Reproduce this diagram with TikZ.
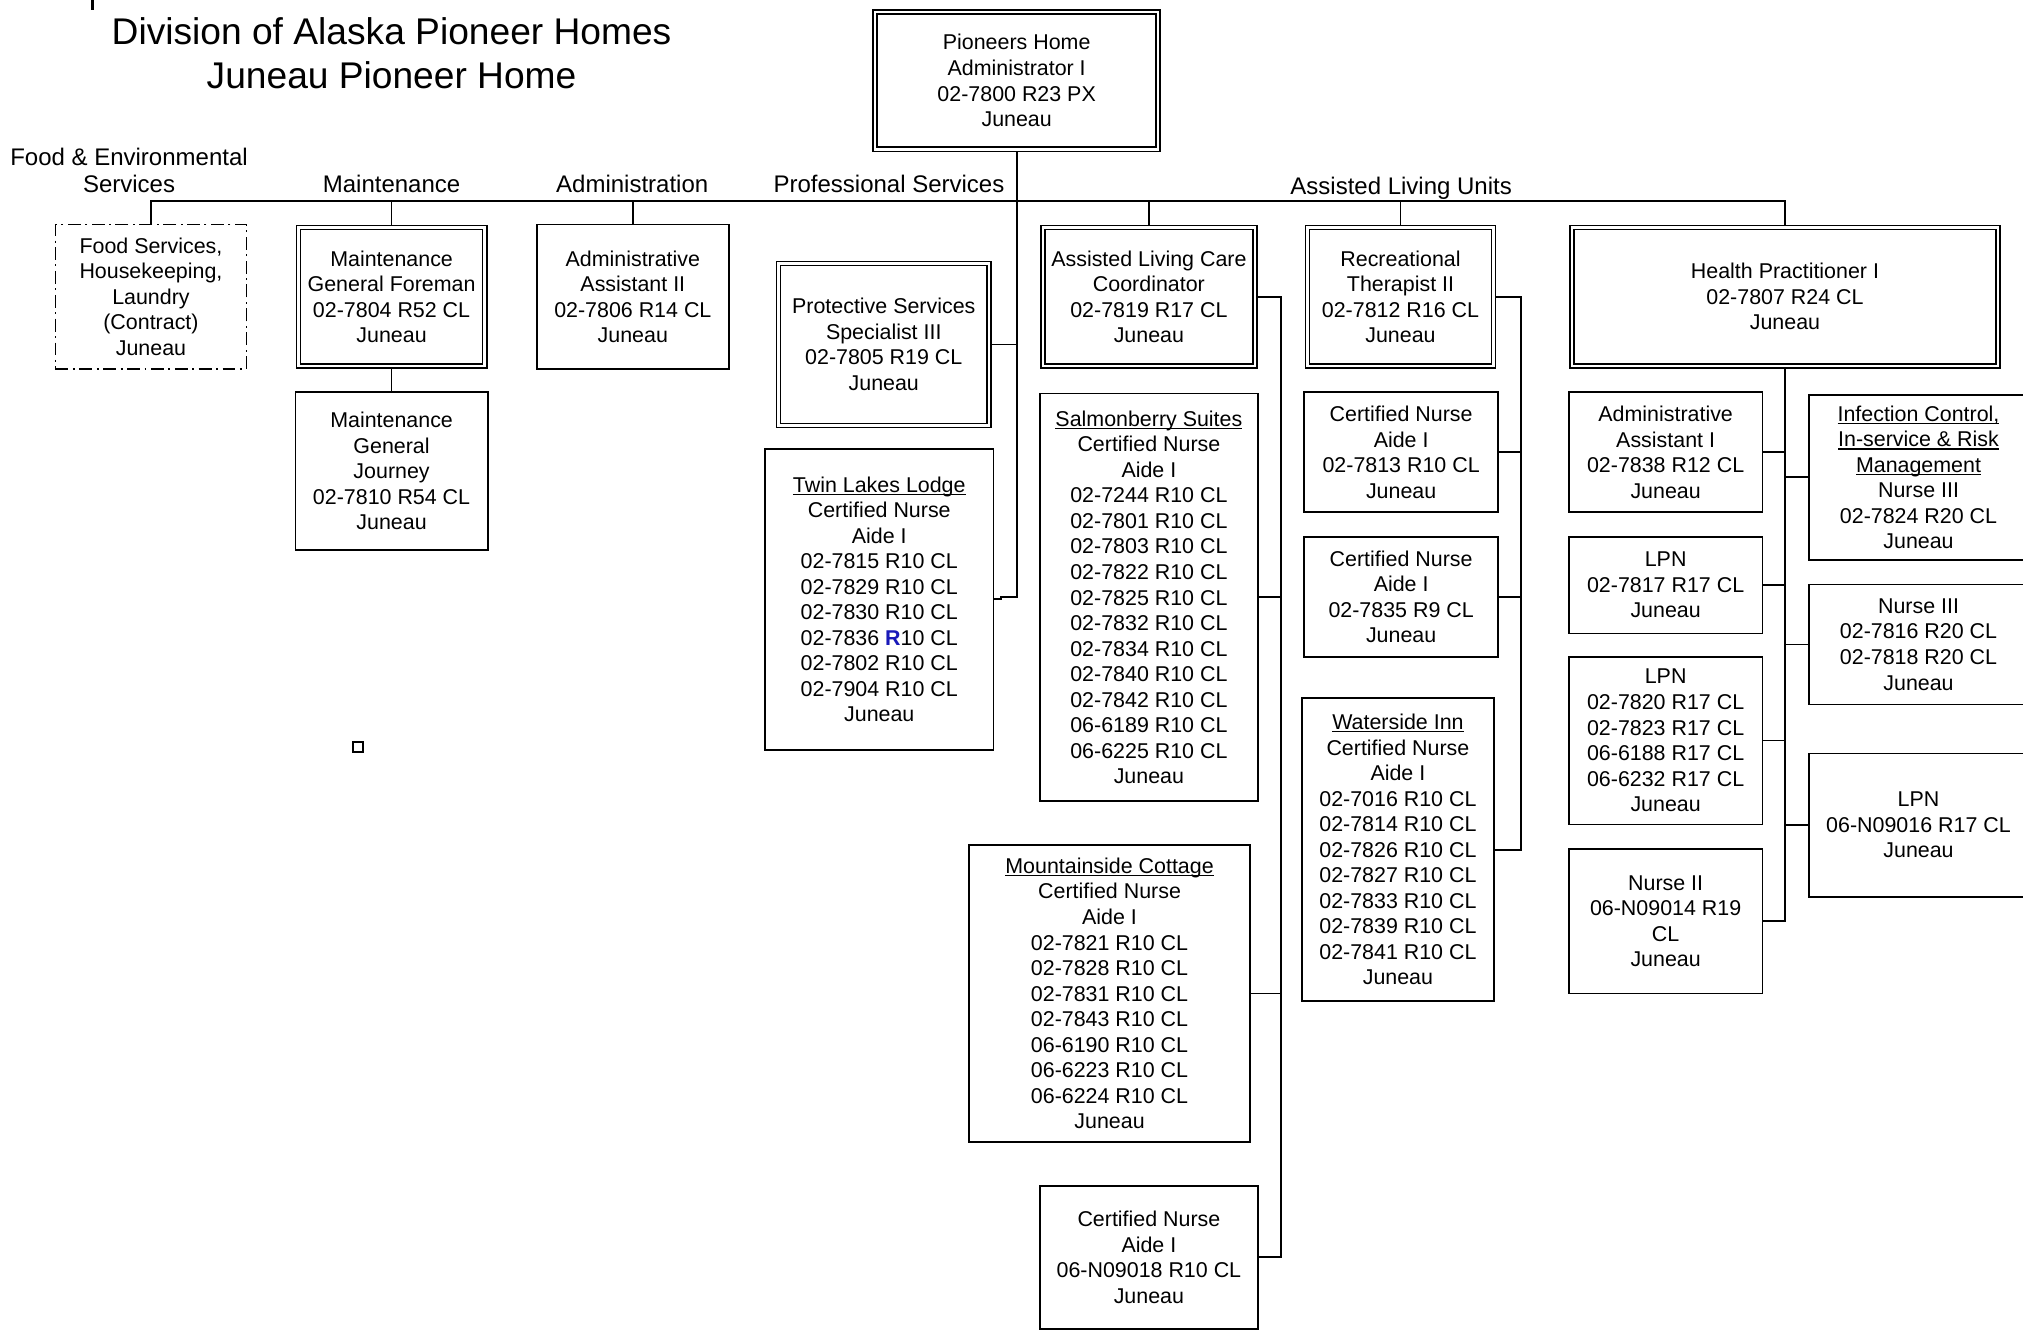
\documentclass[tikz,border=0pt]{standalone}
\usepackage{fontspec}
\setmainfont{Liberation Sans}
\usetikzlibrary{backgrounds}
\definecolor{rblue}{RGB}{25,25,185}
\newcommand\bxfont{\fontsize{16.6}{19.8}\selectfont}
\newcommand\scfont{\fontsize{18.6}{21.5}\selectfont}
\newcommand\ttlfont{\fontsize{28.8}{34}\selectfont}
\newcommand\myul[1]{\leavevmode\setbox0\hbox{#1}\rlap{\rule[-2.3pt]{\wd0}{1.1pt}}\box0}
\begin{document}
\begin{tikzpicture}[x=1pt,y=-1pt,
  bx/.style={draw, line width=1.4pt, inner sep=0pt, align=center, font=\bxfont},
  dbx/.style={bx, double, double distance=2pt, line width=1.2pt},
  fbx/.style={bx, line width=1.3pt, dash pattern=on 10pt off 3.5pt on 1.5pt off 3.5pt},
  sec/.style={inner sep=0pt, align=center, font=\scfont},
  conn/.style={line width=1.4pt},
]
\useasboundingbox (0,0) rectangle (1568,1031);

% title
\node[inner sep=0pt, align=center, font=\ttlfont] (title) at (303.5,41) {Division of Alaska Pioneer Homes\\Juneau Pioneer Home};
\draw[line width=2pt] (71.5,0) -- (71.5,8);

% section labels
\node[sec] (lfood) at (100,132) {Food \& Environmental\\Services};
\node[sec, anchor=base] (lmaint) at (303.5,149.5) {Maintenance};
\node[sec, anchor=base] (ladmin) at (490,149.5) {Administration};
\node[sec, anchor=base] (lprof) at (689,149.5) {Professional Services};
\node[sec, anchor=base] (lalu) at (1086,151) {Assisted Living Units};

% boxes
\node[dbx, minimum width=219.4pt, minimum height=106.4pt] (top) at (788,62.5) {Pioneers Home\\Administrator I\\02-7800 R23 PX\\Juneau};

\node[fbx, minimum width=148pt, minimum height=112pt] (food) at (117,230) {Food Services,\\Housekeeping,\\Laundry\\(Contract)\\Juneau};

\node[dbx, minimum width=144.4pt, minimum height=107.4pt] (mgf) at (303.5,230) {Maintenance\\General Foreman\\02-7804 R52 CL\\Juneau};
\node[bx, minimum width=149pt, minimum height=122pt] (mgj) at (303.5,365) {Maintenance\\General\\Journey\\02-7810 R54 CL\\Juneau};

\node[bx, minimum width=149pt, minimum height=112pt] (adm2) at (490.5,230) {Administrative\\Assistant II\\02-7806 R14 CL\\Juneau};

\node[dbx, minimum width=163.4pt, minimum height=125.4pt] (prot) at (685,267) {Protective Services\\Specialist III\\02-7805 R19 CL\\Juneau};
\node[bx, minimum width=177pt, minimum height=233pt] (twin) at (681.5,464.5) {\myul{Twin Lakes Lodge}\\Certified Nurse\\Aide I\\02-7815 R10 CL\\02-7829 R10 CL\\02-7830 R10 CL\\02-7836 \textcolor{rblue}{\textbf{R}}10 CL\\02-7802 R10 CL\\02-7904 R10 CL\\Juneau};

\node[dbx, minimum width=164.4pt, minimum height=107.4pt] (alcc) at (890.5,230) {Assisted Living Care\\Coordinator\\02-7819 R17 CL\\Juneau};
\node[bx, minimum width=169pt, minimum height=316pt] (salm) at (890.5,463) {\myul{Salmonberry Suites}\\Certified Nurse\\Aide I\\02-7244 R10 CL\\02-7801 R10 CL\\02-7803 R10 CL\\02-7822 R10 CL\\02-7825 R10 CL\\02-7832 R10 CL\\02-7834 R10 CL\\02-7840 R10 CL\\02-7842 R10 CL\\06-6189 R10 CL\\06-6225 R10 CL\\Juneau};
\node[bx, minimum width=218pt, minimum height=230pt] (mount) at (860,770) {\myul{Mountainside Cottage}\\Certified Nurse\\Aide I\\02-7821 R10 CL\\02-7828 R10 CL\\02-7831 R10 CL\\02-7843 R10 CL\\06-6190 R10 CL\\06-6223 R10 CL\\06-6224 R10 CL\\Juneau};
\node[bx, minimum width=169pt, minimum height=111pt] (cna18) at (890.5,974.5) {Certified Nurse\\Aide I\\06-N09018 R10 CL\\Juneau};

\node[dbx, minimum width=144.4pt, minimum height=107.4pt] (rec) at (1085.5,230) {Recreational\\Therapist II\\02-7812 R16 CL\\Juneau};
\node[bx, minimum width=150pt, minimum height=93pt] (cna13) at (1086,350.5) {Certified Nurse\\Aide I\\02-7813 R10 CL\\Juneau};
\node[bx, minimum width=150pt, minimum height=93pt] (cna35) at (1086,462.5) {Certified Nurse\\Aide I\\02-7835 R9 CL\\Juneau};
\node[bx, minimum width=149pt, minimum height=235pt] (water) at (1083.5,658.5) {\myul{Waterside Inn}\\Certified Nurse\\Aide I\\02-7016 R10 CL\\02-7814 R10 CL\\02-7826 R10 CL\\02-7827 R10 CL\\02-7833 R10 CL\\02-7839 R10 CL\\02-7841 R10 CL\\Juneau};

\node[dbx, minimum width=330.4pt, minimum height=107.4pt] (hp) at (1383.5,230) {Health Practitioner I\\02-7807 R24 CL\\Juneau};
\node[bx, minimum width=150pt, minimum height=93pt] (adm1) at (1291,350.5) {Administrative\\Assistant I\\02-7838 R12 CL\\Juneau};
\node[bx, minimum width=150pt, minimum height=75pt] (lpn17) at (1291,453.5) {LPN\\02-7817 R17 CL\\Juneau};
\node[bx, minimum width=150pt, minimum height=130pt] (lpn20) at (1291,574) {LPN\\02-7820 R17 CL\\02-7823 R17 CL\\06-6188 R17 CL\\06-6232 R17 CL\\Juneau};
\node[bx, minimum width=150pt, minimum height=112pt] (nurse2) at (1291,714) {Nurse II\\06-N09014 R19\\CL\\Juneau};
\node[bx, minimum width=170pt, minimum height=128pt] (infc) at (1487,370) {\myul{Infection Control,}\\\myul{In-service \& Risk}\\\myul{Management}\\Nurse III\\02-7824 R20 CL\\Juneau};
\node[bx, minimum width=170pt, minimum height=93pt] (n3) at (1487,499.5) {Nurse III\\02-7816 R20 CL\\02-7818 R20 CL\\Juneau};
\node[bx, minimum width=170pt, minimum height=111pt] (lpnN) at (1487,639.5) {LPN\\06-N09016 R17 CL\\Juneau};

\node[draw, line width=1.6pt, minimum size=8pt, inner sep=0pt] (sq) at (277.3,579) {};

\coordinate (bus) at (0,155.5);
\coordinate (alsp) at (993,0);
\coordinate (rcsp) at (1179,0);

\begin{pgfonlayer}{background}
\fill[white] (0,0) rectangle (1568,1031);
\draw[conn] (food.north) -- (food.north |- bus) -- (hp.north |- bus) -- (hp.north);
\draw[conn] (mgf.north) -- (mgf.north |- bus);
\draw[conn] (adm2.north) -- (adm2.north |- bus);
\draw[conn] (alcc.north) -- (alcc.north |- bus);
\draw[conn] (rec.north) -- (rec.north |- bus);
\draw[conn] (mgf.south) -- (mgj.north);
% professional services
\draw[conn] (top.south) |- ([xshift=5pt,yshift=2pt]twin.east) -- ([xshift=5pt]twin.east) -- (twin.east);
\draw[conn] (prot.east) -- (prot.east -| top.south);
% assisted living care coordinator
\draw[conn] (alcc.east) -- (alcc.east -| alsp) -- (cna18.east -| alsp) -- (cna18.east);
\draw[conn] (salm.east) -- (salm.east -| alsp);
\draw[conn] (mount.east) -- (mount.east -| alsp);
% recreational therapist
\draw[conn] (rec.east) -- (rec.east -| rcsp) -- (water.east -| rcsp) -- (water.east);
\draw[conn] (cna13.east) -- (cna13.east -| rcsp);
\draw[conn] (cna35.east) -- (cna35.east -| rcsp);
% health practitioner
\draw[conn] (hp.south) -- (hp.south |- nurse2.east) -- (nurse2.east);
\draw[conn] (adm1.east) -- (adm1.east -| hp.south);
\draw[conn] (lpn17.east) -- (lpn17.east -| hp.south);
\draw[conn] (lpn20.east) -- (lpn20.east -| hp.south);
\draw[conn] (infc.west) -- (infc.west -| hp.south);
\draw[conn] (n3.west) -- (n3.west -| hp.south);
\draw[conn] (lpnN.west) -- (lpnN.west -| hp.south);
\end{pgfonlayer}
\end{tikzpicture}
\end{document}
